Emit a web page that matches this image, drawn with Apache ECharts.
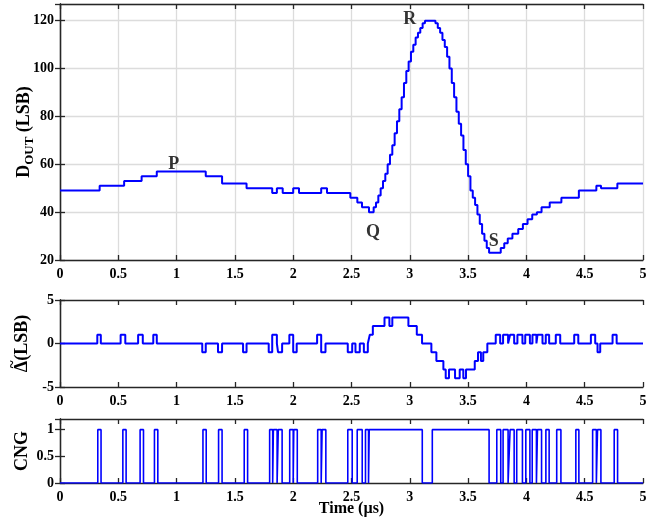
<!DOCTYPE html>
<html>
<head>
<meta charset="utf-8">
<script src="https://cdn.jsdelivr.net/npm/echarts@6/dist/echarts.min.js"></script>
<style>
  html, body { margin: 0; padding: 0; background: #fff; }
  #chart { width: 665px; height: 519px; }
</style>
</head>
<body>
<div id="chart"></div>
<script>
// D_OUT trace, held value from each time until the next one (µs, LSB)
const doutTime = [0, 0.34, 0.55, 0.70, 0.83, 1.25, 1.39, 1.60, 1.82, 1.86, 1.91, 2.00, 2.05, 2.24, 2.29,
  2.49, 2.55, 2.59, 2.65, 2.69, 2.71, 2.73, 2.75, 2.77, 2.79, 2.81, 2.83, 2.85, 2.87, 2.89, 2.91,
  2.93, 2.95, 2.97, 2.99, 3.01, 3.03, 3.05, 3.07, 3.09, 3.11, 3.13, 3.22, 3.24, 3.26, 3.28, 3.30,
  3.32, 3.34, 3.36, 3.38, 3.40, 3.42, 3.44, 3.46, 3.48, 3.50, 3.52, 3.54, 3.56, 3.58, 3.60, 3.62,
  3.64, 3.66, 3.68, 3.78, 3.81, 3.84, 3.88, 3.93, 3.97, 4.01, 4.05, 4.09, 4.13, 4.20, 4.30, 4.45,
  4.60, 4.64, 4.78, 5.00];
const doutVal = [49, 51, 53, 55, 57, 55, 52, 50, 48, 50, 48, 50, 48, 50, 48,
  46, 44, 42, 40, 42, 44, 47, 50, 53, 56, 60, 64, 68, 73, 78, 83,
  88, 94, 99, 103, 107, 110, 113, 115, 117, 119, 120, 119, 117, 115, 112, 109,
  105, 100, 94, 88, 82, 77, 72, 66, 60, 55, 49, 46, 43, 39, 35, 31,
  28, 25, 23, 25, 27, 29, 31, 33, 35, 37, 39, 40, 42, 44, 46, 49,
  51, 50, 52, 52];

// Delta trace (LSB)
const deltaTime = [0, 0.32, 0.35, 0.52, 0.56, 0.67, 0.71, 0.80, 0.83, 1.22, 1.25, 1.355, 1.39, 1.57, 1.60,
  1.79, 1.82, 1.86, 1.87, 1.905, 1.967, 2.0, 2.03, 2.205, 2.24, 2.277,
  2.468, 2.506, 2.534, 2.571, 2.606, 2.64,
  2.657, 2.683, 2.783, 2.825, 2.85, 2.988, 3.06, 3.105,
  3.185, 3.228, 3.288, 3.308, 3.336, 3.388, 3.428, 3.459, 3.482, 3.557, 3.585, 3.61, 3.63, 3.665,
  3.737, 3.775, 3.80, 3.843, 3.86, 3.895, 3.923, 3.966, 3.99, 4.03, 4.052, 4.086, 4.095, 4.138,
  4.166, 4.195, 4.252, 4.29, 4.41, 4.445, 4.553, 4.59, 4.61, 4.633, 4.739, 4.774, 5.0];
const deltaVal = [0, 1, 0, 1, 0, 1, 0, 1, 0, -1, 0, -1, 0, -1, 0,
  -1, 1, 0, -1, 0, 1, -1, 0, 1, -1, 0,
  -1, 0, -1, 0, -1, 0,
  1, 2, 3, 2, 3, 2, 1, 0,
  -1, -2, -3, -4, -3, -4, -3, -4, -3, -2, -1, -2, -1, 0,
  1, 0, 1, 0, 1, 0, 1, 0, 1, 0, 1, 0, 1, 0,
  1, 0, 1, 0, 1, 0, 1, 0, -1, 0, 1, 0, 0];

// CNG flag
const cngTime = [0, 0.324, 0.352, 0.539, 0.567, 0.687, 0.716, 0.81, 0.839, 1.226, 1.254, 1.36, 1.39, 1.58, 1.609,
  1.798, 1.824, 1.83, 1.862, 1.872, 1.905, 1.97, 2.0, 2.005, 2.035, 2.21, 2.24, 2.248, 2.28,
  2.468, 2.506, 2.549, 2.592, 2.62, 2.646, 2.652, 3.107, 3.193, 3.68,
  3.746, 3.78, 3.80, 3.843, 3.86, 3.895, 3.917, 3.966, 3.995, 4.03, 4.05, 4.086, 4.095, 4.13,
  4.167, 4.195, 4.26, 4.296, 4.424, 4.45, 4.568, 4.60, 4.61, 4.639, 4.753, 4.782, 5.0];
const cngVal = [0, 1, 0, 1, 0, 1, 0, 1, 0, 1, 0, 1, 0, 1, 0,
  1, 0, 1, 0, 1, 0, 1, 0, 1, 0, 1, 0, 1, 0,
  1, 0, 1, 0, 1, 0, 1, 0, 1, 0,
  1, 0, 1, 0, 1, 0, 1, 0, 1, 0, 1, 0, 1, 0,
  1, 0, 1, 0, 1, 0, 1, 0, 1, 0, 1, 0, 0];

// wave labels
const waveNames = ['P', 'Q', 'R', 'S'];
const waveTime = [0.975, 2.685, 3.0, 3.72];
const waveVal = [60, 31.5, 120.5, 28];

const FONT = 'Liberation Serif';
const INK = '#262626';
const BLUE = '#0000ff';

const zip = (t, v) => t.map((x, i) => [x, v[i]]);

const chart = echarts.init(document.getElementById('chart'));

function xAxes(gi, name, grid) {
  const base = {
    type: 'value', gridIndex: gi, min: 0, max: 5, interval: 0.5,
    axisLine: { onZero: false, lineStyle: { color: INK, width: 1.3 } },
    axisTick: { inside: true, length: 5, lineStyle: { color: INK, width: 1.3 } },
    splitLine: { show: false }
  };
  return [
    Object.assign({}, base, {
      position: 'bottom',
      axisLabel: { color: '#000', fontFamily: FONT, fontWeight: 'bold', fontSize: 14, margin: 7 },
      splitLine: { show: grid, lineStyle: { color: '#dcdcdc', width: 1.3 } },
      name: name, nameLocation: 'middle', nameGap: 18, nameMoveOverlap: false,
      nameTextStyle: { color: '#000', fontFamily: FONT, fontWeight: 'bold', fontSize: 16 }
    }),
    Object.assign({}, base, { position: 'top', axisLabel: { show: false } })
  ];
}

function yAxes(gi, min, max, interval, name, gap, grid, rich) {
  const base = {
    type: 'value', gridIndex: gi, min: min, max: max, interval: interval,
    axisLine: { lineStyle: { color: INK, width: 1.3 } },
    axisTick: { inside: true, length: 5, lineStyle: { color: INK, width: 1.3 } },
    splitLine: { show: false }
  };
  return [
    Object.assign({}, base, {
      position: 'left',
      axisLabel: { color: '#000', fontFamily: FONT, fontWeight: 'bold', fontSize: 14, margin: 6, showMaxLabel: max % interval === 0 },
      splitLine: { show: grid, lineStyle: { color: '#dcdcdc', width: 1.3 } },
      name: name, nameLocation: 'middle', nameGap: gap, nameRotate: 90, nameMoveOverlap: false,
      nameTextStyle: Object.assign({ color: '#000', fontFamily: FONT, fontWeight: 'bold', fontSize: 18 }, rich ? { rich: rich } : {})
    }),
    Object.assign({}, base, { position: 'right', axisLabel: { show: false } })
  ];
}

const doutRich = {
  d: { fontFamily: FONT, fontWeight: 'bold', fontSize: 18, color: '#000', lineHeight: 24, verticalAlign: 'middle' },
  s: { fontFamily: FONT, fontWeight: 'bold', fontSize: 13, color: '#000', lineHeight: 24, verticalAlign: 'bottom' }
};
const deltaRich = {
  t: { fontFamily: FONT, fontWeight: 'bold', fontSize: 15, color: '#000', lineHeight: 6, verticalAlign: 'top', align: 'left', padding: [0, 0, 0, 4] },
  d: { fontFamily: FONT, fontWeight: 'bold', fontSize: 18, color: '#000', lineHeight: 20, align: 'left' }
};

const gridBase = { left: 60, right: 22, outerBoundsMode: 'none', containLabel: false };

const option = {
  animation: false,
  backgroundColor: '#fff',
  grid: [
    Object.assign({ top: 4, height: 256 }, gridBase),
    Object.assign({ top: 300, height: 87 }, gridBase),
    Object.assign({ top: 419, height: 64 }, gridBase)
  ],
  xAxis: [].concat(xAxes(0, '', true), xAxes(1, '', false), xAxes(2, 'Time (µs)', false)),
  yAxis: [].concat(
    yAxes(0, 20, 127, 20, '{d|D}{s|OUT}{d| (LSB)}', 24, true, doutRich),
    yAxes(1, -5, 5, 5, '{t|~}\n{d|Δ(LSB)}', 28, false, deltaRich),
    yAxes(2, 0, 1.2, 0.5, 'CNG', 29, false)
  ),
  series: [
    {
      type: 'line', xAxisIndex: 0, yAxisIndex: 0, step: 'end', symbol: 'none',
      data: zip(doutTime, doutVal), lineStyle: { color: BLUE, width: 2 }
    },
    {
      type: 'scatter', xAxisIndex: 0, yAxisIndex: 0, symbolSize: 1,
      itemStyle: { color: 'rgba(0,0,0,0)' },
      data: waveNames.map((n, i) => ({ name: n, value: [waveTime[i], waveVal[i]] })),
      label: {
        show: true, position: 'inside', formatter: p => p.name,
        color: '#000', fontFamily: FONT, fontWeight: 'bold', fontSize: 18
      }
    },
    {
      type: 'line', xAxisIndex: 2, yAxisIndex: 2, step: 'end', symbol: 'none',
      data: zip(deltaTime, deltaVal), lineStyle: { color: BLUE, width: 2 }
    },
    {
      type: 'line', xAxisIndex: 4, yAxisIndex: 4, step: 'end', symbol: 'none',
      data: zip(cngTime, cngVal), lineStyle: { color: BLUE, width: 1.6 }
    }
  ]
};

chart.setOption(option);
</script>
</body>
</html>
